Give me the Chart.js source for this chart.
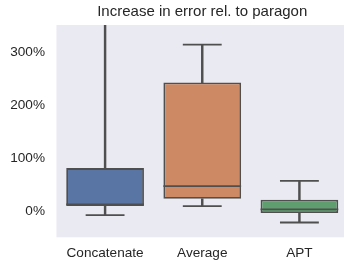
<!DOCTYPE html>
<html>
<head>
<meta charset="utf-8">
<script src="https://cdn.jsdelivr.net/npm/chart.js@4/dist/chart.umd.min.js"></script>
<style>
  html, body { margin: 0; padding: 0; background: #ffffff; overflow: hidden; }
  #wrap { width: 348px; height: 260px; position: relative; }
</style>
</head>
<body>
<div id="wrap"><canvas id="c"></canvas></div>
<script>
// ---- data ----
const categories = ['Concatenate', 'Average', 'APT'];
const whiskerLow  = [-8, 9, -22];
const q1          = [9.5, 23, -4];
const medians     = [12.5, 47, 3];
const q3          = [81, 243, 21];
const whiskerHigh = [500, 315, 57];
const yTicks      = [0, 100, 200, 300];

// ---- styles ----
const boxColors = ['#5975A4', '#CC8963', '#5F9E6E'];
const lineColor = '#4f4f4f';
const lw = 1.8;
const textColor = '#262626';
const fontFamily = '"Liberation Sans", Arial, sans-serif';

const bgPlugin = {
  id: 'areaBg',
  beforeDraw(chart) {
    const a = chart.chartArea, ctx = chart.ctx;
    ctx.save();
    ctx.fillStyle = '#EAEAF2';
    ctx.fillRect(a.left, a.top, a.right - a.left, a.bottom - a.top);
    ctx.restore();
  }
};

const boxHalf = (ctx) => ctx.chart.scales.x.width / categories.length * 0.8 / 2;
const capHalf = (ctx) => ctx.chart.scales.x.width / categories.length * 0.8 / 4;

new Chart(document.getElementById('c'), {
  type: 'bar',
  data: {
    labels: categories,
    datasets: [
      {
        type: 'bar', order: 3, grouped: false,
        data: categories.map((c, i) => [whiskerLow[i], q1[i]]),
        backgroundColor: lineColor, borderWidth: 0, barThickness: lw
      },
      {
        type: 'bar', order: 3, grouped: false,
        data: categories.map((c, i) => [q3[i], whiskerHigh[i]]),
        backgroundColor: lineColor, borderWidth: 0, barThickness: lw
      },
      {
        type: 'bar', order: 2, grouped: false,
        data: categories.map((c, i) => [q1[i], q3[i]]),
        backgroundColor: boxColors, borderColor: lineColor, borderWidth: lw,
        borderSkipped: false, barPercentage: 0.8, categoryPercentage: 1
      },
      {
        type: 'line', order: 1, showLine: false, data: whiskerLow,
        pointStyle: 'line', pointRadius: capHalf, pointHoverRadius: capHalf,
        pointBorderColor: lineColor, pointBorderWidth: lw, pointBackgroundColor: lineColor
      },
      {
        type: 'line', order: 1, showLine: false, data: whiskerHigh,
        pointStyle: 'line', pointRadius: capHalf, pointHoverRadius: capHalf,
        pointBorderColor: lineColor, pointBorderWidth: lw, pointBackgroundColor: lineColor
      },
      {
        type: 'line', order: 0, showLine: false, data: medians,
        pointStyle: 'line', pointRadius: boxHalf, pointHoverRadius: boxHalf,
        pointBorderColor: lineColor, pointBorderWidth: lw, pointBackgroundColor: lineColor
      }
    ]
  },
  options: {
    responsive: true,
    maintainAspectRatio: false,
    animation: false,
    events: [],
    layout: { padding: 0 },
    plugins: {
      legend: { display: false },
      tooltip: { enabled: false },
      title: {
        display: true,
        text: 'Increase in error rel. to paragon',
        fullSize: false,
        color: textColor,
        font: { family: fontFamily, size: 15, weight: 'normal' },
        padding: { top: 2.8, bottom: 4.2 }
      }
    },
    scales: {
      x: {
        offset: true,
        grid: { display: false, drawTicks: false },
        border: { display: false },
        ticks: {
          color: textColor, padding: 7.9,
          font: { family: fontFamily, size: 13.6 },
          maxRotation: 0, autoSkip: false
        },
        afterFit(scale) { scale.height = 22.7; }
      },
      y: {
        min: -50, max: 352,
        grid: { display: false, drawTicks: false },
        border: { display: false },
        afterBuildTicks(scale) { scale.ticks = yTicks.map(v => ({ value: v })); },
        ticks: {
          color: textColor, padding: 11.5,
          font: { family: fontFamily, size: 13.6 },
          callback: (v) => v + '%'
        },
        afterFit(scale) { scale.width = 56.5; }
      }
    }
  },
  plugins: [bgPlugin]
});
</script>
</body>
</html>
